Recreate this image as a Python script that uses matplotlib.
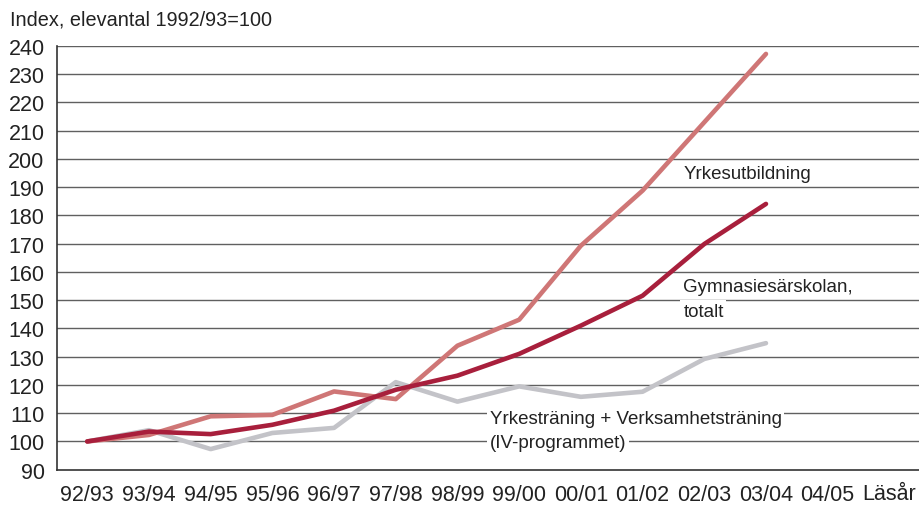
import matplotlib
matplotlib.use("Agg")
import matplotlib.pyplot as plt

plt.rcParams['font.family'] = ['Liberation Sans', 'DejaVu Sans']

years = ["92/93", "93/94", "94/95", "95/96", "96/97", "97/98", "98/99",
         "99/00", "00/01", "01/02", "02/03", "03/04", "04/05"]
yrkesutbildning = [100, 102.3, 108.9, 109.4, 117.7, 115.0, 133.9, 143.1, 169.3, 188.8, 213.0, 237.2]
totalt = [100, 103.5, 102.6, 105.9, 110.9, 118.3, 123.3, 131.0, 141.0, 151.6, 169.9, 184.1]
iv_program = [100, 104.0, 97.3, 103.0, 104.8, 121.0, 114.1, 119.5, 115.8, 117.6, 129.2, 134.8]
yticks = list(range(90, 241, 10))

c_light = "#CF7676"
c_dark = "#A81F3C"
c_gray = "#C3C3C8"

fig = plt.figure(figsize=(9.19, 5.06), dpi=100)
ax = fig.add_axes([57/919, 35.3/506, 1 - 57/919, (470.7 - 47)/506])

for y in yticks[1:]:
    ax.axhline(y, color="#606060", lw=1.0, zorder=1)

x = list(range(len(years)))
ax.plot(x[:len(iv_program)], iv_program, color=c_gray, lw=3.3, solid_capstyle="round", zorder=3)
ax.plot(x[:len(yrkesutbildning)], yrkesutbildning, color=c_light, lw=3.3, solid_capstyle="round", zorder=4)
ax.plot(x[:len(totalt)], totalt, color=c_dark, lw=3.3, solid_capstyle="round", zorder=5)

ax.set_ylim(90, 240)
ax.set_xlim(-0.49, 13.48)
ax.set_yticks(yticks)
ax.set_yticklabels([str(v) for v in yticks], fontsize=15.5, color="#222222")
ax.set_xticks(x)
ax.set_xticklabels(years, fontsize=15.5, color="#222222")
ax.tick_params(axis="both", length=0)
ax.tick_params(axis="y", pad=9)
ax.tick_params(axis="x", pad=10)

for s in ["top", "right"]:
    ax.spines[s].set_visible(False)
for s in ["left", "bottom"]:
    ax.spines[s].set_color("#333333")
    ax.spines[s].set_linewidth(1.2)

box = dict(facecolor="white", edgecolor="none", pad=2)
lab_kw = dict(fontsize=13.5, color="#222222", va="center", ha="left", zorder=6)
ax.text(9.66, 194.7, "Yrkesutbildning", **lab_kw)
ax.text(9.66, 154.7, "Gymnasiesärskolan,", bbox=box, **lab_kw)
ax.text(9.66, 146.0, "totalt", bbox=box, **lab_kw)
ax.text(6.52, 108.0, "Yrkesträning + Verksamhetsträning", bbox=box, **lab_kw)
ax.text(6.52, 99.8, "(IV-programmet)", bbox=box, **lab_kw)

fig.text(10/919, 1 - 20/506, "Index, elevantal 1992/93=100", fontsize=14.3,
         color="#222222", va="center", ha="left")
fig.text(1 - 3/919, 1 - 495/506, "Läsår", fontsize=15.5, color="#222222",
         va="center", ha="right")

fig.savefig("out.png", dpi=100)
